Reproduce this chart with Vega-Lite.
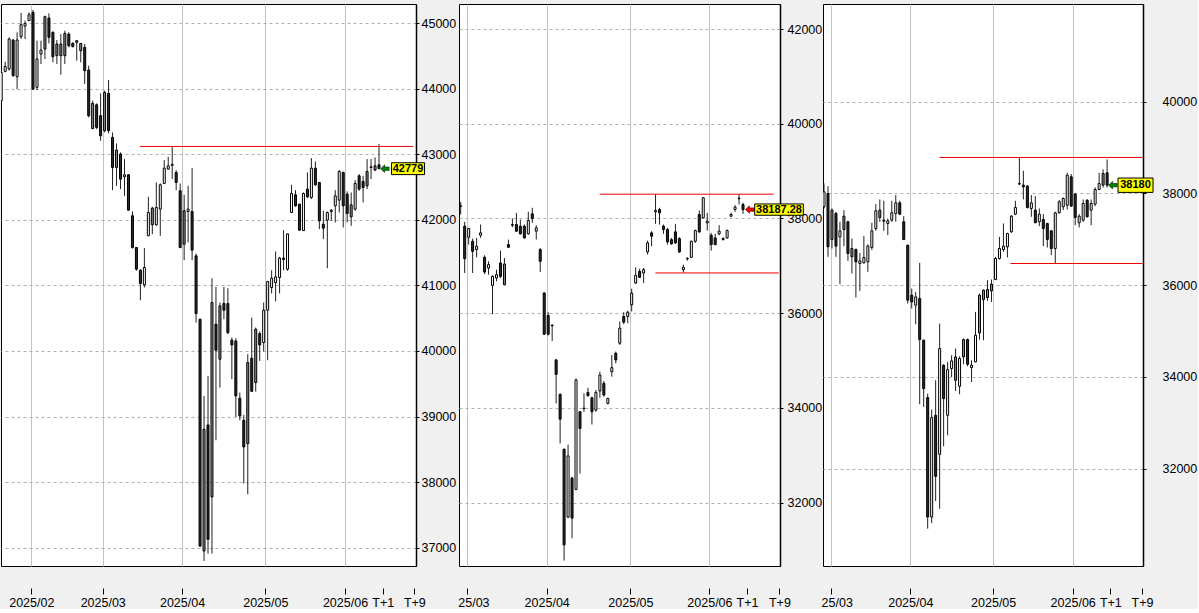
{
"$schema": "https://vega.github.io/schema/vega-lite/v6.json",
"background": "#f0f0f0",
"padding": {"left": 0, "top": 3, "right": 0, "bottom": 0},
"config": {
  "view": {"stroke": "#000", "fill": "#fff", "strokeWidth": 1},
  "axis": {"labelFont": "Liberation Sans Narrow, Liberation Sans", "labelColor": "#000", "labelFontSize": 12.5}
},
"datasets": {
"L": [
{"k":1,"t":"w","o":43815,"h":44273,"l":43790,"c":44247},
{"k":2,"t":"w","o":44263,"h":44410,"l":44247,"c":44339},
{"k":3,"t":"w","o":44298,"h":44781,"l":44273,"c":44756},
{"k":4,"t":"b","o":44741,"h":44756,"l":44181,"c":44197},
{"k":5,"t":"w","o":44181,"h":44858,"l":43993,"c":44741},
{"k":6,"t":"w","o":44792,"h":45153,"l":44756,"c":44975},
{"k":7,"t":"w","o":44954,"h":45036,"l":44756,"c":44995},
{"k":8,"t":"w","o":45036,"h":45163,"l":45030,"c":45127},
{"k":9,"t":"b","o":45163,"h":45198,"l":43978,"c":43993},
{"k":10,"t":"w","o":44019,"h":44731,"l":43978,"c":44451},
{"k":11,"t":"w","o":44527,"h":44731,"l":44375,"c":44588},
{"k":12,"t":"g","o":45097,"h":45112,"l":44451,"c":44603},
{"k":13,"t":"b","o":45076,"h":45148,"l":44690,"c":44782},
{"k":14,"t":"b","o":44858,"h":44873,"l":44400,"c":44486},
{"k":15,"t":"g","o":44680,"h":44741,"l":44375,"c":44502},
{"k":16,"t":"g","o":44680,"h":44832,"l":44212,"c":44502},
{"k":17,"t":"g","o":44842,"h":44883,"l":44375,"c":44502},
{"k":18,"t":"b","o":44832,"h":44858,"l":44629,"c":44654},
{"k":19,"t":"b","o":44690,"h":44705,"l":44629,"c":44639},
{"k":20,"t":"g","o":44731,"h":44736,"l":44425,"c":44705},
{"k":21,"t":"g","o":44690,"h":44695,"l":44400,"c":44578},
{"k":22,"t":"b","o":44629,"h":44680,"l":44069,"c":44273},
{"k":23,"t":"b","o":44283,"h":44349,"l":43561,"c":43586},
{"k":24,"t":"g","o":43775,"h":43815,"l":43383,"c":43390},
{"k":25,"t":"b","o":43754,"h":43775,"l":43383,"c":43408},
{"k":26,"t":"b","o":43586,"h":43927,"l":43205,"c":43281},
{"k":27,"t":"g","o":43942,"h":43968,"l":43332,"c":43358},
{"k":28,"t":"b","o":43927,"h":44130,"l":43317,"c":43358},
{"k":29,"t":"b","o":43256,"h":43332,"l":42452,"c":42798},
{"k":30,"t":"g","o":43063,"h":43164,"l":42519,"c":42798},
{"k":31,"t":"b","o":43002,"h":43027,"l":42468,"c":42620},
{"k":32,"t":"w","o":42656,"h":42925,"l":42366,"c":42686},
{"k":33,"t":"b","o":42686,"h":42697,"l":42140,"c":42147},
{"k":34,"t":"b","o":42061,"h":42127,"l":41560,"c":41578},
{"k":35,"t":"b","o":41578,"h":41585,"l":41222,"c":41247},
{"k":36,"t":"b","o":41232,"h":41247,"l":40774,"c":41029},
{"k":37,"t":"w","o":41008,"h":41568,"l":40968,"c":41273},
{"k":38,"t":"w","o":41756,"h":42351,"l":41750,"c":42112},
{"k":39,"t":"g","o":42178,"h":42198,"l":41781,"c":41924},
{"k":40,"t":"w","o":41924,"h":42569,"l":41908,"c":42188},
{"k":41,"t":"w","o":42163,"h":42554,"l":41756,"c":42534},
{"k":42,"t":"w","o":42554,"h":42910,"l":42550,"c":42787},
{"k":43,"t":"w","o":42772,"h":42960,"l":42770,"c":42823},
{"k":44,"t":"w","o":42830,"h":43113,"l":42620,"c":42845},
{"k":45,"t":"b","o":42721,"h":42757,"l":42452,"c":42569},
{"k":46,"t":"b","o":42442,"h":42554,"l":41567,"c":41577},
{"k":47,"t":"g","o":42137,"h":42381,"l":41384,"c":41628},
{"k":48,"t":"w","o":42126,"h":42518,"l":41654,"c":42162},
{"k":49,"t":"b","o":42126,"h":42787,"l":41384,"c":41537},
{"k":50,"t":"b","o":41450,"h":41486,"l":40433,"c":40570},
{"k":51,"t":"b","o":40484,"h":40490,"l":37011,"c":37026},
{"k":52,"t":"g","o":38806,"h":39315,"l":36797,"c":36950},
{"k":53,"t":"b","o":38872,"h":39620,"l":36909,"c":37128},
{"k":54,"t":"g","o":40738,"h":41109,"l":36909,"c":37774},
{"k":55,"t":"b","o":40408,"h":40977,"l":38638,"c":40011},
{"k":56,"t":"g","o":40687,"h":40738,"l":39442,"c":39874},
{"k":57,"t":"b","o":40723,"h":40977,"l":40484,"c":40621},
{"k":58,"t":"b","o":40723,"h":40957,"l":40255,"c":40280},
{"k":59,"t":"b","o":40164,"h":40204,"l":39569,"c":40092},
{"k":60,"t":"b","o":40153,"h":40194,"l":38994,"c":39314},
{"k":61,"t":"b","o":39279,"h":39365,"l":38943,"c":39009},
{"k":62,"t":"b","o":38943,"h":39025,"l":37977,"c":38536},
{"k":63,"t":"g","o":39823,"h":39950,"l":37814,"c":38587},
{"k":64,"t":"b","o":39889,"h":40509,"l":39380,"c":39385},
{"k":65,"t":"g","o":40331,"h":40357,"l":39380,"c":39518},
{"k":66,"t":"b","o":40265,"h":40296,"l":39848,"c":40092},
{"k":67,"t":"w","o":40128,"h":40738,"l":39991,"c":40621},
{"k":68,"t":"w","o":40621,"h":41069,"l":39859,"c":41059},
{"k":69,"t":"w","o":40967,"h":41231,"l":40876,"c":41109},
{"k":70,"t":"w","o":41043,"h":41516,"l":40754,"c":41130},
{"k":71,"t":"w","o":41120,"h":41435,"l":40876,"c":41415},
{"k":72,"t":"b","o":41415,"h":41842,"l":41232,"c":41395},
{"k":73,"t":"w","o":41247,"h":41791,"l":41221,"c":41785},
{"k":74,"t":"w","o":42111,"h":42533,"l":42105,"c":42401},
{"k":75,"t":"b","o":42381,"h":42452,"l":42198,"c":42213},
{"k":76,"t":"b","o":42238,"h":42245,"l":41831,"c":41842},
{"k":77,"t":"w","o":41835,"h":42416,"l":41831,"c":42401},
{"k":78,"t":"b","o":42467,"h":42721,"l":42330,"c":42350},
{"k":79,"t":"w","o":42340,"h":42940,"l":42315,"c":42787},
{"k":80,"t":"b","o":42787,"h":42889,"l":42518,"c":42533},
{"k":81,"t":"b","o":42569,"h":42575,"l":41857,"c":41984},
{"k":82,"t":"b","o":41933,"h":42137,"l":41704,"c":41872},
{"k":83,"t":"w","o":41994,"h":42126,"l":41262,"c":42111},
{"k":84,"t":"w","o":42126,"h":42162,"l":41984,"c":42147},
{"k":85,"t":"w","o":42213,"h":42452,"l":41959,"c":42365},
{"k":86,"t":"w","o":42299,"h":42757,"l":42111,"c":42737},
{"k":87,"t":"b","o":42721,"h":42737,"l":41882,"c":42213},
{"k":88,"t":"b","o":42391,"h":42432,"l":41959,"c":42096},
{"k":89,"t":"g","o":42228,"h":42416,"l":41908,"c":42045},
{"k":90,"t":"w","o":42162,"h":42604,"l":42137,"c":42554},
{"k":91,"t":"b","o":42670,"h":42696,"l":42442,"c":42467},
{"k":92,"t":"b","o":42584,"h":42670,"l":42264,"c":42492},
{"k":93,"t":"g","o":42737,"h":42925,"l":42467,"c":42518},
{"k":94,"t":"w","o":42798,"h":42925,"l":42620,"c":42808},
{"k":95,"t":"g","o":42823,"h":42950,"l":42747,"c":42757},
{"k":96,"t":"b","o":42838,"h":43154,"l":42772,"c":42779}
],
"M": [
{"k":1,"t":"w","o":38255,"h":38352,"l":38084,"c":38265},
{"k":2,"t":"b","o":37837,"h":37929,"l":36849,"c":37152},
{"k":3,"t":"w","o":37604,"h":37802,"l":37449,"c":37788},
{"k":4,"t":"b","o":37519,"h":37576,"l":36849,"c":37307},
{"k":5,"t":"w","o":37343,"h":37590,"l":37180,"c":37413},
{"k":6,"t":"w","o":37646,"h":37872,"l":37590,"c":37696},
{"k":7,"t":"b","o":37180,"h":37223,"l":36827,"c":36870},
{"k":8,"t":"w","o":36955,"h":37096,"l":36813,"c":37025},
{"k":9,"t":"w","o":36587,"h":36799,"l":35980,"c":36778},
{"k":10,"t":"w","o":36743,"h":36919,"l":36672,"c":36813},
{"k":11,"t":"b","o":37060,"h":37322,"l":36743,"c":36778},
{"k":12,"t":"g","o":37039,"h":37166,"l":36587,"c":36601},
{"k":13,"t":"b","o":37449,"h":37554,"l":37378,"c":37392},
{"k":14,"t":"b","o":37872,"h":38000,"l":37816,"c":37858},
{"k":15,"t":"b","o":37872,"h":38119,"l":37717,"c":37731},
{"k":16,"t":"b","o":37837,"h":37978,"l":37660,"c":37675},
{"k":17,"t":"b","o":37837,"h":37872,"l":37576,"c":37590},
{"k":18,"t":"w","o":37675,"h":38140,"l":37660,"c":37957},
{"k":19,"t":"b","o":38098,"h":38225,"l":37907,"c":37999},
{"k":20,"t":"w","o":37731,"h":37858,"l":37555,"c":37802},
{"k":21,"t":"b","o":37343,"h":37378,"l":36870,"c":37096},
{"k":22,"t":"b","o":36425,"h":36446,"l":35543,"c":35557},
{"k":23,"t":"b","o":35952,"h":36022,"l":35528,"c":35557},
{"k":24,"t":"b","o":35745,"h":35768,"l":35415,"c":35735},
{"k":25,"t":"b","o":35013,"h":35034,"l":34095,"c":34709},
{"k":26,"t":"b","o":34286,"h":34307,"l":33248,"c":33763},
{"k":27,"t":"b","o":33128,"h":33142,"l":30777,"c":31109},
{"k":28,"t":"w","o":31695,"h":33227,"l":31674,"c":32987},
{"k":29,"t":"b","o":32521,"h":32542,"l":31250,"c":31674},
{"k":30,"t":"w","o":32281,"h":34625,"l":32260,"c":34589},
{"k":31,"t":"b","o":33919,"h":33933,"l":32613,"c":33566},
{"k":32,"t":"w","o":33985,"h":34307,"l":33919,"c":33995},
{"k":33,"t":"b","o":34328,"h":34427,"l":34237,"c":34258},
{"k":34,"t":"b","o":34215,"h":34237,"l":33650,"c":33919},
{"k":35,"t":"w","o":33954,"h":34378,"l":33919,"c":34328},
{"k":36,"t":"w","o":34357,"h":34766,"l":34215,"c":34695},
{"k":37,"t":"b","o":34519,"h":34568,"l":34237,"c":34272},
{"k":38,"t":"w","o":34095,"h":34215,"l":34074,"c":34201},
{"k":39,"t":"w","o":34766,"h":35119,"l":34660,"c":34851},
{"k":40,"t":"b","o":35154,"h":35190,"l":34942,"c":35013},
{"k":41,"t":"w","o":35366,"h":35825,"l":35331,"c":35684},
{"k":42,"t":"b","o":35931,"h":36022,"l":35768,"c":35811},
{"k":43,"t":"w","o":35931,"h":36051,"l":35790,"c":36022},
{"k":44,"t":"w","o":36178,"h":36517,"l":36037,"c":36425},
{"k":45,"t":"w","o":36637,"h":36968,"l":36616,"c":36799},
{"k":46,"t":"b","o":36884,"h":36940,"l":36743,"c":36757},
{"k":47,"t":"w","o":36849,"h":36955,"l":36637,"c":36919},
{"k":48,"t":"w","o":37293,"h":37533,"l":37237,"c":37484},
{"k":49,"t":"b","o":37696,"h":37731,"l":37413,"c":37625},
{"k":50,"t":"w","o":38140,"h":38508,"l":37886,"c":38169},
{"k":51,"t":"b","o":38190,"h":38225,"l":37872,"c":38119},
{"k":52,"t":"b","o":37837,"h":37872,"l":37675,"c":37766},
{"k":53,"t":"b","o":37766,"h":37802,"l":37449,"c":37505},
{"k":54,"t":"b","o":37555,"h":37590,"l":37449,"c":37463},
{"k":55,"t":"b","o":37717,"h":37886,"l":37463,"c":37484},
{"k":56,"t":"b","o":37576,"h":37604,"l":37272,"c":37293},
{"k":57,"t":"w","o":36919,"h":37025,"l":36860,"c":36968},
{"k":58,"t":"w","o":37148,"h":37180,"l":37110,"c":37158},
{"k":59,"t":"w","o":37180,"h":37533,"l":37166,"c":37519},
{"k":60,"t":"w","o":37519,"h":37766,"l":37484,"c":37745},
{"k":61,"t":"b","o":38084,"h":38169,"l":37696,"c":37717},
{"k":62,"t":"w","o":38013,"h":38451,"l":37999,"c":38437},
{"k":63,"t":"w","o":37907,"h":38119,"l":37745,"c":37943},
{"k":64,"t":"b","o":37646,"h":37696,"l":37322,"c":37449},
{"k":65,"t":"b","o":37590,"h":37675,"l":37435,"c":37449},
{"k":66,"t":"w","o":37675,"h":37858,"l":37646,"c":37731},
{"k":67,"t":"b","o":37576,"h":37604,"l":37533,"c":37555},
{"k":68,"t":"w","o":37590,"h":37766,"l":37576,"c":37745},
{"k":69,"t":"w","o":38049,"h":38119,"l":38028,"c":38084},
{"k":70,"t":"w","o":38190,"h":38282,"l":38140,"c":38239},
{"k":71,"t":"w","o":38418,"h":38508,"l":38296,"c":38428},
{"k":72,"t":"b","o":38296,"h":38331,"l":38098,"c":38187}
],
"R": [
{"k":0,"t":"w","o":37709,"h":38218,"l":37673,"c":38036},
{"k":1,"t":"b","o":38000,"h":38160,"l":36618,"c":36836},
{"k":2,"t":"g","o":37636,"h":37673,"l":36800,"c":36996},
{"k":3,"t":"b","o":37564,"h":37600,"l":36618,"c":36851},
{"k":4,"t":"w","o":37054,"h":37382,"l":36022,"c":37185},
{"k":5,"t":"g","o":37505,"h":37636,"l":36851,"c":37214},
{"k":6,"t":"b","o":37382,"h":37404,"l":36531,"c":36691},
{"k":7,"t":"g","o":36800,"h":37018,"l":36254,"c":36618},
{"k":8,"t":"b","o":36778,"h":36800,"l":35731,"c":36509},
{"k":9,"t":"w","o":36473,"h":36705,"l":35876,"c":36531},
{"k":10,"t":"w","o":36487,"h":37069,"l":36473,"c":36604},
{"k":11,"t":"w","o":36509,"h":36894,"l":36291,"c":36851},
{"k":12,"t":"w","o":36822,"h":37360,"l":36764,"c":37185},
{"k":13,"t":"w","o":37236,"h":37767,"l":37185,"c":37622},
{"k":14,"t":"g","o":37636,"h":37869,"l":37382,"c":37476},
{"k":15,"t":"b","o":37418,"h":37840,"l":37185,"c":37396},
{"k":16,"t":"w","o":37345,"h":37454,"l":37091,"c":37404},
{"k":17,"t":"w","o":37418,"h":37840,"l":37382,"c":37578},
{"k":18,"t":"w","o":37564,"h":37964,"l":37382,"c":37796},
{"k":19,"t":"b","o":37796,"h":37840,"l":37527,"c":37549},
{"k":20,"t":"b","o":37382,"h":37505,"l":36982,"c":36996},
{"k":21,"t":"b","o":36873,"h":36880,"l":35600,"c":35673},
{"k":22,"t":"b","o":35782,"h":35927,"l":35491,"c":35636},
{"k":23,"t":"w","o":35563,"h":35854,"l":35149,"c":35745},
{"k":24,"t":"b","o":35709,"h":36487,"l":33403,"c":34814},
{"k":25,"t":"b","o":34800,"h":34814,"l":33345,"c":33745},
{"k":26,"t":"b","o":33549,"h":33636,"l":30691,"c":30945},
{"k":27,"t":"w","o":30945,"h":33287,"l":30814,"c":33113},
{"k":28,"t":"b","o":33163,"h":33927,"l":31294,"c":31832},
{"k":29,"t":"w","o":32312,"h":35163,"l":31127,"c":34618},
{"k":30,"t":"b","o":34254,"h":34276,"l":32487,"c":33527},
{"k":31,"t":"w","o":33163,"h":34327,"l":32727,"c":34160},
{"k":32,"t":"w","o":34182,"h":34473,"l":33999,"c":34349},
{"k":33,"t":"g","o":34436,"h":34618,"l":33694,"c":33927},
{"k":34,"t":"w","o":33796,"h":34451,"l":33622,"c":34400},
{"k":35,"t":"g","o":34814,"h":34836,"l":34276,"c":34436},
{"k":36,"t":"b","o":34814,"h":34836,"l":34233,"c":34276},
{"k":37,"t":"w","o":34203,"h":34364,"l":33891,"c":34254},
{"k":38,"t":"w","o":34327,"h":35418,"l":34320,"c":34909},
{"k":39,"t":"g","o":35782,"h":35818,"l":34814,"c":34960},
{"k":40,"t":"g","o":35891,"h":35905,"l":34800,"c":35687},
{"k":41,"t":"g","o":35905,"h":36109,"l":35658,"c":35731},
{"k":42,"t":"g","o":36022,"h":36124,"l":35636,"c":35876},
{"k":43,"t":"w","o":36124,"h":36618,"l":36109,"c":36582},
{"k":44,"t":"w","o":36582,"h":37054,"l":36560,"c":36800},
{"k":45,"t":"w","o":36778,"h":37345,"l":36727,"c":36851},
{"k":46,"t":"w","o":36836,"h":37142,"l":36604,"c":37127},
{"k":47,"t":"w","o":37163,"h":37527,"l":37142,"c":37505},
{"k":48,"t":"w","o":37549,"h":37840,"l":37527,"c":37694},
{"k":49,"t":"w","o":38204,"h":38785,"l":38182,"c":38218},
{"k":50,"t":"b","o":38182,"h":38495,"l":37869,"c":38145},
{"k":51,"t":"b","o":38160,"h":38182,"l":37673,"c":37694},
{"k":52,"t":"w","o":37673,"h":37964,"l":37491,"c":37796},
{"k":53,"t":"b","o":37636,"h":37942,"l":37355,"c":37360},
{"k":54,"t":"w","o":37382,"h":37673,"l":37287,"c":37549},
{"k":55,"t":"b","o":37433,"h":37549,"l":36851,"c":37236},
{"k":56,"t":"b","o":37345,"h":37360,"l":36822,"c":36996},
{"k":57,"t":"b","o":37185,"h":37200,"l":36654,"c":36800},
{"k":58,"t":"w","o":36800,"h":37600,"l":36473,"c":37578},
{"k":59,"t":"w","o":37578,"h":37855,"l":37564,"c":37818},
{"k":60,"t":"w","o":37709,"h":37913,"l":37636,"c":37891},
{"k":61,"t":"w","o":37745,"h":38451,"l":37651,"c":38400},
{"k":62,"t":"b","o":38364,"h":38422,"l":37709,"c":37724},
{"k":63,"t":"b","o":37985,"h":38014,"l":37309,"c":37476},
{"k":64,"t":"w","o":37360,"h":37549,"l":37258,"c":37505},
{"k":65,"t":"w","o":37418,"h":37869,"l":37382,"c":37782},
{"k":66,"t":"b","o":37855,"h":37869,"l":37476,"c":37491},
{"k":67,"t":"w","o":37636,"h":37869,"l":37309,"c":37782},
{"k":68,"t":"w","o":37767,"h":38131,"l":37724,"c":38087},
{"k":69,"t":"w","o":38087,"h":38451,"l":38073,"c":38218},
{"k":70,"t":"g","o":38436,"h":38524,"l":38131,"c":38182},
{"k":71,"t":"b","o":38451,"h":38742,"l":38131,"c":38180}
],
"LL": [{"x1":35.9,"x2":104.6,"y":43118}],
"ML": [{"x1":35.96,"x2":79.7,"y":38513},{"x1":49.97,"x2":81.0,"y":36850}],
"RL": [{"x1":28.98,"x2":79.9,"y":38785},{"x1":46.77,"x2":79.9,"y":36473}],
"LP": [{"v":42779,"txt":"42779"}],
"MP": [{"v":38187.28,"txt":"38187.28"}],
"RP": [{"v":38180,"txt":"38180"}]
},
"hconcat": [
{
  "width": 415, "height": 562,
  "layer": [
    {"data": {"name": "L"}, "mark": {"type": "rule", "color": "#202020", "strokeWidth": 1, "clip": true},
     "encoding": {
       "x": {"field": "k", "type": "quantitative", "title": null, "scale": {"domain": [0.95, 105.3], "nice": false, "zero": false, "padding": 0},
             "axis": {"orient": "bottom", "values": [8.57, 26.53, 46.47, 67.41, 87.45, 96.93, 104.88],
               "labelExpr": "datum.value < 10 ? '2025/02' : datum.value < 30 ? '2025/03' : datum.value < 50 ? '2025/04' : datum.value < 70 ? '2025/05' : datum.value < 90 ? '2025/06' : datum.value < 100 ? 'T+1' : 'T+9'",
               "offset": 22, "domain": false, "tickSize": 6, "tickColor": "#000", "labelPadding": 2, "labelFlush": false, "labelOverlap": false,
               "grid": true, "gridColor": "#c4c4c4", "gridOpacity": {"condition": {"test": "datum.value > 95", "value": 0}, "value": 1}}},
       "y": {"field": "l", "type": "quantitative", "title": null, "scale": {"domain": [36721, 45290], "nice": false, "zero": false, "padding": 0},
             "axis": {"orient": "right", "values": [37000, 38000, 39000, 40000, 41000, 42000, 43000, 44000, 45000], "format": "d",
               "grid": true, "gridColor": "#b0b0b0", "gridDash": [3, 3], "domainColor": "#000", "domainWidth": 1.5, "tickColor": "#000", "tickSize": 3, "labelPadding": 2}},
       "y2": {"field": "h"}
     }},
    {"data": {"name": "L"}, "mark": {"type": "bar", "size": 2, "stroke": "#000", "strokeWidth": 1, "clip": true},
     "encoding": {
       "x": {"field": "k", "type": "quantitative", "title": null},
       "y": {"field": "o", "type": "quantitative", "title": null},
       "y2": {"field": "c"},
       "fill": {"field": "t", "type": "nominal", "legend": null, "scale": {"domain": ["w", "b", "g"], "range": ["#ffffff", "#2b2b2b", "#8c8c8c"]}}
     }},
    {"data": {"name": "LL"}, "mark": {"type": "rule", "color": "#f00000", "strokeWidth": 1},
     "encoding": {"x": {"field": "x1", "type": "quantitative", "title": null}, "x2": {"field": "x2"}, "y": {"field": "y", "type": "quantitative", "title": null}}},
    {"data": {"name": "LP"}, "mark": {"type": "point", "shape": "M-1,0L-0.1,-0.9L-0.1,-0.4L1,-0.4L1,0.4L-0.1,0.4L-0.1,0.9Z", "size": 69, "filled": true, "fill": "#008000", "stroke": "#003000", "strokeWidth": 0.7, "opacity": 1},
     "encoding": {"x": {"datum": 97.5, "type": "quantitative"}, "y": {"field": "v", "type": "quantitative", "title": null}}},
    {"data": {"name": "LP"}, "mark": {"type": "point", "shape": "M-1,-0.36H1V0.36H-1Z", "size": 1089, "filled": true, "fill": "#ffff00", "stroke": "#000", "strokeWidth": 1, "opacity": 1},
     "encoding": {"x": {"datum": 103.3, "type": "quantitative"}, "y": {"field": "v", "type": "quantitative", "title": null}}},
    {"data": {"name": "LP"}, "mark": {"type": "text", "font": "Liberation Sans", "fontSize": 11, "fontWeight": "bold", "color": "#000", "align": "center", "baseline": "middle"},
     "encoding": {"x": {"datum": 103.3, "type": "quantitative"}, "y": {"field": "v", "type": "quantitative", "title": null}, "text": {"field": "txt"}}}
  ]
},
{
  "width": 321, "height": 562,
  "layer": [
    {"data": {"name": "M"}, "mark": {"type": "rule", "color": "#202020", "strokeWidth": 1, "clip": true},
     "encoding": {
       "x": {"field": "k", "type": "quantitative", "title": null, "scale": {"domain": [0.57, 81.3], "nice": false, "zero": false, "padding": 0},
             "axis": {"orient": "bottom", "values": [2.69, 22.63, 43.68, 63.55, 73.0, 81.15],
               "labelExpr": "datum.value < 5 ? '25/03' : datum.value < 30 ? '2025/04' : datum.value < 50 ? '2025/05' : datum.value < 70 ? '2025/06' : datum.value < 78 ? 'T+1' : 'T+9'",
               "labelOffset": {"condition": {"test": "datum.value < 5", "value": 6}, "value": 0},
               "offset": 22, "domain": false, "tickSize": 6, "tickColor": "#000", "labelPadding": 2, "labelFlush": false, "labelOverlap": false,
               "grid": true, "gridColor": "#c4c4c4", "gridOpacity": {"condition": {"test": "datum.value > 70", "value": 0}, "value": 1}}},
       "y": {"field": "l", "type": "quantitative", "title": null, "scale": {"domain": [30663, 42528], "nice": false, "zero": false, "padding": 0},
             "axis": {"orient": "right", "values": [32000, 34000, 36000, 38000, 40000, 42000], "format": "d",
               "grid": true, "gridColor": "#b0b0b0", "gridDash": [3, 3], "domainColor": "#000", "domainWidth": 1.5, "tickColor": "#000", "tickSize": 3, "labelPadding": 4}},
       "y2": {"field": "h"}
     }},
    {"data": {"name": "M"}, "mark": {"type": "bar", "size": 2, "stroke": "#000", "strokeWidth": 1, "clip": true},
     "encoding": {
       "x": {"field": "k", "type": "quantitative", "title": null},
       "y": {"field": "o", "type": "quantitative", "title": null},
       "y2": {"field": "c"},
       "fill": {"field": "t", "type": "nominal", "legend": null, "scale": {"domain": ["w", "b", "g"], "range": ["#ffffff", "#2b2b2b", "#8c8c8c"]}}
     }},
    {"data": {"name": "ML"}, "mark": {"type": "rule", "color": "#f00000", "strokeWidth": 1},
     "encoding": {"x": {"field": "x1", "type": "quantitative", "title": null}, "x2": {"field": "x2"}, "y": {"field": "y", "type": "quantitative", "title": null}}},
    {"data": {"name": "MP"}, "mark": {"type": "point", "shape": "M-1,0L-0.1,-0.9L-0.1,-0.4L1,-0.4L1,0.4L-0.1,0.4L-0.1,0.9Z", "size": 69, "filled": true, "fill": "#f00000", "stroke": "#600000", "strokeWidth": 0.7, "opacity": 1},
     "encoding": {"x": {"datum": 73.7, "type": "quantitative"}, "y": {"field": "v", "type": "quantitative", "title": null}}},
    {"data": {"name": "MP"}, "mark": {"type": "point", "shape": "M-1,-0.232H1V0.232H-1Z", "size": 2372, "filled": true, "fill": "#ffff00", "stroke": "#000", "strokeWidth": 1, "opacity": 1},
     "encoding": {"x": {"datum": 81.05, "type": "quantitative"}, "y": {"field": "v", "type": "quantitative", "title": null}}},
    {"data": {"name": "MP"}, "mark": {"type": "text", "font": "Liberation Sans", "fontSize": 11, "fontWeight": "bold", "color": "#000", "align": "center", "baseline": "middle"},
     "encoding": {"x": {"datum": 81.05, "type": "quantitative"}, "y": {"field": "v", "type": "quantitative", "title": null}, "text": {"field": "txt"}}}
  ]
},
{
  "width": 320, "height": 562,
  "layer": [
    {"data": {"name": "R"}, "mark": {"type": "rule", "color": "#202020", "strokeWidth": 1, "clip": true},
     "encoding": {
       "x": {"field": "k", "type": "quantitative", "title": null, "scale": {"domain": [-0.25, 80.0], "nice": false, "zero": false, "padding": 0},
             "axis": {"orient": "bottom", "values": [1.68, 21.64, 42.43, 62.37, 71.81, 79.76],
               "labelExpr": "datum.value < 5 ? '25/03' : datum.value < 30 ? '2025/04' : datum.value < 50 ? '2025/05' : datum.value < 70 ? '2025/06' : datum.value < 76 ? 'T+1' : 'T+9'",
               "labelOffset": {"condition": {"test": "datum.value < 5", "value": 6}, "value": 0},
               "offset": 22, "domain": false, "tickSize": 6, "tickColor": "#000", "labelPadding": 2, "labelFlush": false, "labelOverlap": false,
               "grid": true, "gridColor": "#c4c4c4", "gridOpacity": {"condition": {"test": "datum.value > 70", "value": 0}, "value": 1}}},
       "y": {"field": "l", "type": "quantitative", "title": null, "scale": {"domain": [29877, 42131], "nice": false, "zero": false, "padding": 0},
             "axis": {"orient": "right", "values": [32000, 34000, 36000, 38000, 40000], "format": "d",
               "grid": true, "gridColor": "#b0b0b0", "gridDash": [3, 3], "domainColor": "#000", "domainWidth": 1.5, "tickColor": "#000", "tickSize": 3, "labelPadding": 16}},
       "y2": {"field": "h"}
     }},
    {"data": {"name": "R"}, "mark": {"type": "bar", "size": 2, "stroke": "#000", "strokeWidth": 1, "clip": true},
     "encoding": {
       "x": {"field": "k", "type": "quantitative", "title": null},
       "y": {"field": "o", "type": "quantitative", "title": null},
       "y2": {"field": "c"},
       "fill": {"field": "t", "type": "nominal", "legend": null, "scale": {"domain": ["w", "b", "g"], "range": ["#ffffff", "#2b2b2b", "#8c8c8c"]}}
     }},
    {"data": {"name": "RL"}, "mark": {"type": "rule", "color": "#f00000", "strokeWidth": 1},
     "encoding": {"x": {"field": "x1", "type": "quantitative", "title": null}, "x2": {"field": "x2"}, "y": {"field": "y", "type": "quantitative", "title": null}}},
    {"data": {"name": "RP"}, "mark": {"type": "point", "shape": "M-1,0L-0.1,-0.9L-0.1,-0.4L1,-0.4L1,0.4L-0.1,0.4L-0.1,0.9Z", "size": 69, "filled": true, "fill": "#008000", "stroke": "#003000", "strokeWidth": 0.7, "opacity": 1},
     "encoding": {"x": {"datum": 72.45, "type": "quantitative"}, "y": {"field": "v", "type": "quantitative", "title": null}}},
    {"data": {"name": "RP"}, "mark": {"type": "point", "shape": "M-1,-0.41H1V0.41H-1Z", "size": 1225, "filled": true, "fill": "#ffff00", "stroke": "#000", "strokeWidth": 1, "opacity": 1},
     "encoding": {"x": {"datum": 78.13, "type": "quantitative"}, "y": {"field": "v", "type": "quantitative", "title": null}}},
    {"data": {"name": "RP"}, "mark": {"type": "text", "font": "Liberation Sans", "fontSize": 11, "fontWeight": "bold", "color": "#000", "align": "center", "baseline": "middle"},
     "encoding": {"x": {"datum": 78.13, "type": "quantitative"}, "y": {"field": "v", "type": "quantitative", "title": null}, "text": {"field": "txt"}}}
  ]
}
],
"spacing": 43,
"bounds": "flush",
"resolve": {"scale": {"x": "independent", "y": "independent"}}
}
